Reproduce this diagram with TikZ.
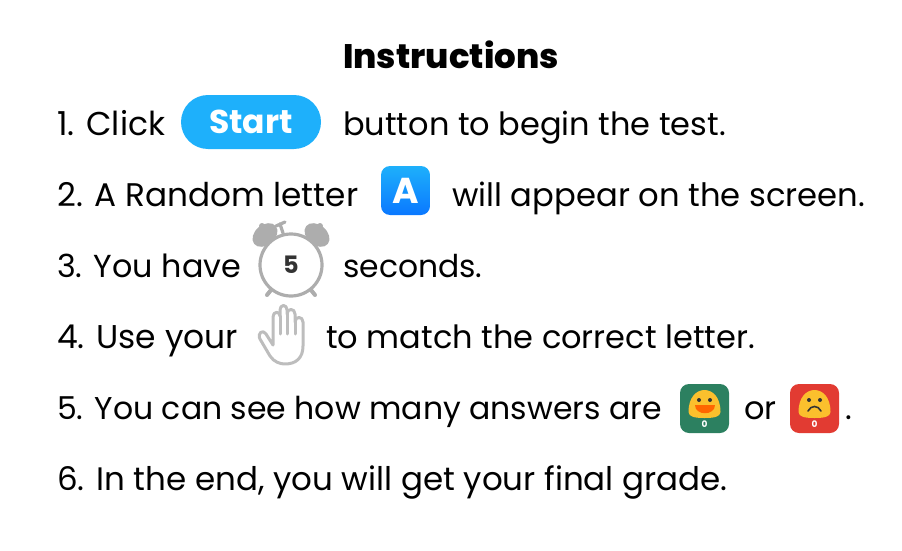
\documentclass[tikz,border=0pt]{standalone}
\usepackage{fontspec}
\setmainfont{Poppins}
\newfontfamily\titlefont{Poppins ExtraBold}
\usetikzlibrary{positioning}
\definecolor{skyblue}{HTML}{1EB0FB}
\definecolor{tileblue}{HTML}{0A78FF}
\definecolor{clockgray}{HTML}{ADADAD}
\definecolor{handgray}{HTML}{BDBDBD}
\definecolor{tilegreen}{HTML}{2C8060}
\definecolor{tilered}{HTML}{E23B32}
\definecolor{faceyellow}{HTML}{FBC02D}
\tikzstyle{txt}=[anchor=base west,inner sep=0pt,font=\fontsize{#1}{36}\selectfont]
\tikzstyle{pill}=[rectangle,fill=skyblue,rounded corners=27pt,minimum width=140pt,minimum height=54pt,inner sep=0pt,text=white,font=\fontsize{33}{36}\selectfont\bfseries]
\tikzstyle{tile}=[rectangle,rounded corners=9pt,minimum width=49pt,minimum height=49pt,inner sep=0pt]
\tikzstyle{clockline}=[draw=clockgray,line width=3.2pt]
\tikzstyle{handline}=[draw=handgray,line width=3pt,line cap=round,line join=round]
\tikzstyle{count}=[inner sep=0pt,text=white,font=\fontsize{9}{9}\selectfont\bfseries]
\newcommand{\facehead}[2]{\fill[faceyellow] (#1-16,#2+8) .. controls (#1-16,#2-7) and (#1-8,#2-14) .. (#1,#2-14) .. controls (#1+8,#2-14) and (#1+16,#2-7) .. (#1+16,#2+8) .. controls (#1+16,#2+13) and (#1+9,#2+14) .. (#1,#2+14) .. controls (#1-9,#2+14) and (#1-16,#2+13) .. (#1-16,#2+8) -- cycle;
\fill[black!80] (#1-5.5,#2-4) circle (2pt) (#1+5.5,#2-4) circle (2pt);}
\begin{document}
\begin{tikzpicture}[x=1pt,y=-1pt]
\useasboundingbox (0,0) rectangle (902,551);
\node[anchor=base,inner sep=0pt,font=\fontsize{34}{40}\titlefont] (title) at (451,69) {Instructions};
% first row
\node[txt=33] (clicktxt) at (57,135) {1. Click};
\node[pill] (start) at (251,122) {Start};
\node[txt=32] (begintxt) at (343,135) {button to begin the test.};
% second row
\node[txt=32.7] (lettertxt) at (57,206) {2. A Random letter};
\node[tile,top color=skyblue,bottom color=tileblue,text=white,font=\fontsize{36}{36}\selectfont\bfseries] (letter) at (405.5,190.5) {A};
\node[txt=32.2] (appeartxt) at (452,206) {will appear on the screen.};
% third row
\node[txt=31.8] (havetxt) at (57,277) {3. You have};
\fill[clockgray,rotate around={40:(265,235)}] (265,235) ellipse (14 and 10);
\fill[clockgray,rotate around={-40:(317,235)}] (317,235) ellipse (14 and 10);
\fill[clockgray] (262,226) circle (3pt) (320,226) circle (3pt);
\draw[clockline,line cap=round] (283,233) -- (280,224);
\draw[clockline,line cap=round] (276,226) -- (285,222);
\draw[clockline,line cap=round,line width=4pt] (271,290) -- (267,295);
\draw[clockline,line cap=round,line width=4pt] (311,290) -- (315,295);
\node[circle,clockline,fill=white,minimum size=62pt,inner sep=0pt,text=black!80,font=\fontsize{24}{24}\selectfont\bfseries] (clock) at (291,265) {5};
\node[txt=31.4] (secondstxt) at (343,277) {seconds.};
% fourth row
\node[txt=32.9] (usetxt) at (57,348) {4. Use your};
\draw[handline] (273,345) -- (266,334) .. controls (263,329) and (257,333) .. (260,339) -- (270,356) .. controls (274,362) and (280,364) .. (285,364) .. controls (296,364) and (303,358) .. (303,346) -- (303,322) .. controls (303,316) and (295,316) .. (295,322) -- (295,314) .. controls (295,308) and (287,308) .. (287,314) -- (287,310) .. controls (287,304) and (280,304) .. (280,310) -- (280,316) .. controls (280,311) and (273,311) .. (273,317) -- cycle;
\draw[handline] (280,316) -- (280,334);
\draw[handline] (287,312) -- (287,334);
\draw[handline] (295,320) -- (295,334);
\node[txt=32] (matchtxt) at (326,348) {to match the correct letter.};
% fifth row
\node[txt=31.5] (answertxt) at (57,419) {5. You can see how many answers are};
\node[tile,fill=tilegreen] (good) at (704.5,408.5) {};
\facehead{704.5}{404}
\fill[orange!80!red] (694.5,405) -- (714.5,405) .. controls (714.5,416) and (694.5,416) .. (694.5,405) -- cycle;
\node[count] (goodcount) at (704.5,424.5) {0};
\node[txt=32] (ortxt) at (744,419) {or};
\node[tile,fill=tilered] (bad) at (814.5,408.5) {};
\facehead{814.5}{404}
\draw[black!80,line width=1.6pt,line cap=round] (808,411) .. controls (811,405) and (818,405) .. (821,411);
\node[count] (badcount) at (814.5,424.5) {0};
\node[txt=32] (dottxt) at (845,419) {.};
% last row
\node[txt=32.5] (gradetxt) at (57,490) {6. In the end, you will get your final grade.};
\end{tikzpicture}
\end{document}
